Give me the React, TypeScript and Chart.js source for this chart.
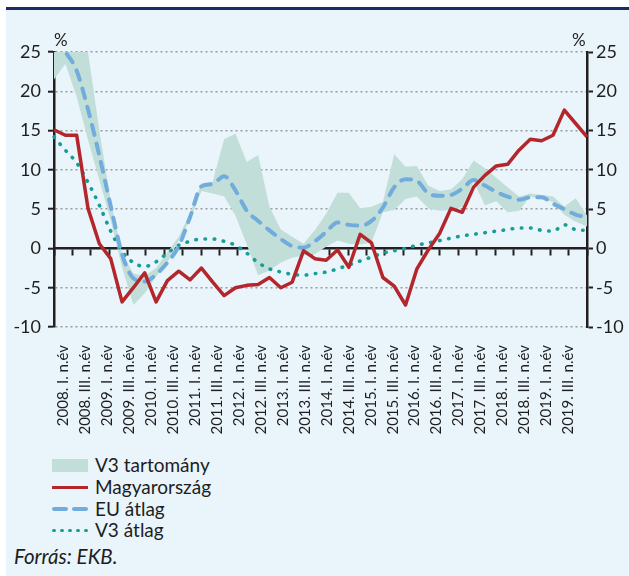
import React, { useEffect, useRef } from 'react';
import { Chart, registerables } from 'chart.js';
Chart.register(...registerables);

const FONT = 'Lato, "Noto Sans", sans-serif';

const years = [2008, 2009, 2010, 2011, 2012, 2013, 2014, 2015, 2016, 2017, 2018, 2019];
const quarters = ['I', 'II', 'III', 'IV'];
const labelQuarters = ['I', 'III'];
const categories: string[] = [];
years.forEach((y) => quarters.forEach((q) => categories.push(`${y}. ${q}. n.év`)));
const tickLabels: string[] = [];
years.forEach((y) => labelQuarters.forEach((q) => tickLabels.push(`${y}. ${q}. n.év`)));

const magyarorszag = [15.1, 14.4, 14.4, 5.1, 0.6, -1.3, -6.8, -5.0, -3.1, -6.8, -4.1, -2.9, -4.0, -2.5, -4.3, -6.0, -5.0, -4.7, -4.6, -3.7, -5.0, -4.3, -0.3, -1.3, -1.5, -0.2, -2.4, 1.8, 0.7, -3.7, -4.8, -7.2, -2.6, -0.2, 1.9, 5.1, 4.6, 7.8, 9.3, 10.5, 10.7, 12.5, 13.9, 13.7, 14.4, 17.6, 15.9, 14.2];
const euAtlag = [26.5, 25.0, 22.6, 17.7, 11.8, 5.4, -0.7, -3.8, -4.2, -3.3, -1.8, 0.3, 4.0, 7.9, 8.2, 9.2, 7.4, 4.8, 3.5, 2.3, 1.2, 0.3, 0.1, 0.9, 2.1, 3.3, 3.0, 2.9, 3.5, 5.2, 7.8, 8.8, 8.6, 7.0, 6.7, 6.8, 7.6, 8.7, 8.0, 7.2, 6.6, 6.2, 6.5, 6.5, 5.7, 5.0, 4.3, 4.0];
const v3Atlag = [14.2, 12.5, 10.9, 8.4, 5.5, 2.2, -0.4, -1.8, -2.3, -1.7, -0.6, 0.4, 0.9, 1.2, 1.2, 0.9, 0.4, -0.6, -1.8, -2.6, -3.0, -3.3, -3.4, -3.2, -3.0, -2.6, -2.1, -1.6, -1.1, -0.6, -0.3, 0.0, 0.4, 0.7, 1.0, 1.3, 1.6, 1.8, 2.0, 2.2, 2.4, 2.6, 2.6, 2.3, 2.2, 3.0, 2.4, 2.3];
const v3Felso = [26.5, 26.5, 26.5, 25.0, 15.0, 6.1, -0.6, -3.2, -3.5, -2.5, -0.5, 1.5, 4.5, 8.3, 8.5, 13.9, 14.6, 11.0, 11.9, 5.3, 2.4, 1.5, 0.6, 2.3, 4.4, 7.1, 7.1, 5.1, 5.3, 5.9, 12.0, 10.4, 10.5, 8.0, 7.3, 7.5, 8.8, 11.2, 10.2, 9.0, 7.8, 6.6, 7.0, 6.8, 6.6, 5.3, 6.4, 4.2];
const v3Also = [21.5, 23.5, 19.3, 13.8, 8.7, 3.6, -2.4, -7.2, -5.7, -3.6, -1.8, 1.0, 3.6, 7.3, 7.0, 6.6, 4.2, 0.5, -3.4, -2.8, -1.8, -1.2, -0.9, -0.7, 0.2, 1.0, 0.6, 0.5, 0.8, 4.6, 4.9, 6.3, 6.6, 5.1, 4.8, 4.9, 5.3, 8.5, 5.5, 6.0, 4.6, 4.8, 6.6, 6.3, 5.9, 4.3, 3.4, 2.8];

const yMin = -10;
const yMax = 25;
const yStep = 5;
const zeroTickCount = 29;

const RED = '#B3262B';
const BLUE = '#72ACDC';
const TEAL = '#159E95';
const BAND = '#C1DED9';
const DARK = '#231F20';
const TEXT = '#1E1E1E';

export default function App() {
  const ref = useRef<HTMLCanvasElement>(null);
  useEffect(() => {
    const canvas = ref.current;
    if (!canvas) return;
    const chart = new Chart(canvas, {
      type: 'line',
      data: {
        labels: categories,
        datasets: [
          {
            label: 'Magyarország',
            data: magyarorszag,
            borderColor: RED,
            borderWidth: 3.5,
            pointRadius: 0,
            tension: 0,
            fill: false,
            xAxisID: 'x',
            yAxisID: 'y',
            borderJoinStyle: 'round',
          },
          {
            label: 'EU átlag',
            data: euAtlag,
            borderColor: BLUE,
            borderWidth: 4,
            borderDash: [10, 9],
            borderCapStyle: 'round',
            pointRadius: 0,
            cubicInterpolationMode: 'monotone',
            fill: false,
            clip: 0,
            xAxisID: 'x',
            yAxisID: 'y',
          },
          {
            label: 'V3 átlag',
            data: v3Atlag,
            borderColor: TEAL,
            borderWidth: 3.6,
            borderDash: [0.5, 8.7],
            borderCapStyle: 'round',
            pointRadius: 0,
            cubicInterpolationMode: 'monotone',
            fill: false,
            xAxisID: 'x',
            yAxisID: 'y',
          },
          {
            label: 'V3 tartomány felső',
            data: v3Felso,
            borderColor: 'rgba(0,0,0,0)',
            borderWidth: 0,
            backgroundColor: BAND,
            pointRadius: 0,
            tension: 0,
            fill: '+1',
            clip: 0,
            xAxisID: 'x',
            yAxisID: 'y',
          },
          {
            label: 'V3 tartomány alsó',
            data: v3Also,
            borderColor: 'rgba(0,0,0,0)',
            borderWidth: 0,
            pointRadius: 0,
            tension: 0,
            fill: false,
            clip: 0,
            xAxisID: 'x',
            yAxisID: 'y',
          },
        ],
      },
      options: {
        responsive: false,
        animation: false,
        layout: { padding: { top: 52, left: 0, right: 0, bottom: 0 } },
        plugins: { legend: { display: false }, tooltip: { enabled: false } },
        scales: {
          x: {
            type: 'category',
            display: false,
          },
          xl: {
            type: 'linear',
            axis: 'x',
            position: 'bottom',
            min: -0.4235,
            max: 23.85,
            grid: { display: false, drawTicks: false },
            border: { display: false },
            afterBuildTicks: (s: any) => {
              s.ticks = tickLabels.map((_, i) => ({ value: i }));
            },
            ticks: {
              autoSkip: false,
              maxRotation: 90,
              minRotation: 90,
              padding: 18,
              color: TEXT,
              font: { family: FONT, size: 15 },
              callback: (v: any) => tickLabels[v] ?? '',
            },
            afterFit: (s: any) => {
              s.height = 113;
            },
          },
          x0: {
            type: 'linear',
            axis: 'x',
            position: { y: 0 },
            min: 0,
            max: zeroTickCount,
            ticks: { display: false, stepSize: 1 },
            grid: { drawOnChartArea: false, tickLength: 6, tickColor: DARK, tickWidth: 2 },
            border: { color: DARK, width: 2.5 },
          },
          y: {
            position: 'left',
            min: yMin,
            max: yMax,
            ticks: { stepSize: yStep, padding: 7, color: TEXT, font: { family: FONT, size: 18 } },
            grid: {
              color: (c: any) => (c.tick && c.tick.value === 0 ? 'rgba(0,0,0,0)' : '#9A9A9A'),
              lineWidth: 1.4,
              tickLength: 6,
              tickColor: DARK,
              tickWidth: 2,
            },
            border: { color: DARK, width: 2.5, dash: [2, 3] },
            afterFit: (s: any) => {
              s.width = 54;
            },
          },
          y2: {
            position: 'right',
            min: yMin,
            max: yMax,
            ticks: { stepSize: yStep, padding: 3, color: TEXT, font: { family: FONT, size: 18 } },
            grid: { drawOnChartArea: false, tickLength: 6, tickColor: DARK, tickWidth: 2 },
            border: { color: DARK, width: 2.5 },
            afterFit: (s: any) => {
              s.width = 42;
            },
          },
        },
      },
    } as any);
    return () => chart.destroy();
  }, []);

  const textStyle: React.CSSProperties = {
    position: 'absolute',
    fontFamily: FONT,
    fontSize: 19,
    lineHeight: '22px',
    color: TEXT,
    whiteSpace: 'nowrap',
  };

  return (
    <div style={{ position: 'fixed', left: 0, top: 0, width: 629, height: 576, background: '#fff', overflow: 'hidden' }}>
      <div style={{ position: 'absolute', left: 6, top: 10, width: 623, height: 566, background: '#E9F4FB' }} />
      <div style={{ position: 'absolute', left: 6, top: 7, width: 623, height: 3, background: '#1B2A6B' }} />
      <canvas ref={ref} width={629} height={440} style={{ position: 'absolute', left: 0, top: 0, display: 'block' }} />
      <span style={{ ...textStyle, fontSize: 17, left: 54, top: 29 }}>%</span>
      <span style={{ ...textStyle, fontSize: 17, left: 572, top: 29 }}>%</span>

      <div style={{ position: 'absolute', left: 52, top: 459, width: 36, height: 13, background: BAND }} />
      <span style={{ ...textStyle, left: 95, top: 454 }}>V3 tartomány</span>

      <div style={{ position: 'absolute', left: 52, top: 485.5, width: 36, height: 3.5, background: RED }} />
      <span style={{ ...textStyle, left: 95, top: 476 }}>Magyarország</span>

      <div style={{ position: 'absolute', left: 52, top: 507, width: 16, height: 4, borderRadius: 2, background: BLUE }} />
      <div style={{ position: 'absolute', left: 72, top: 507, width: 16, height: 4, borderRadius: 2, background: BLUE }} />
      <span style={{ ...textStyle, left: 95, top: 498 }}>EU átlag</span>

      {[0, 1, 2, 3, 4].map((k) => (
        <div key={k} style={{ position: 'absolute', left: 52 + k * 8, top: 528.5, width: 3.5, height: 3.5, borderRadius: 2, background: TEAL }} />
      ))}
      <span style={{ ...textStyle, left: 95, top: 519 }}>V3 átlag</span>

      <span style={{ ...textStyle, fontSize: 20.5, left: 14, top: 545, fontStyle: 'italic' }}>Forrás: EKB.</span>
    </div>
  );
}
